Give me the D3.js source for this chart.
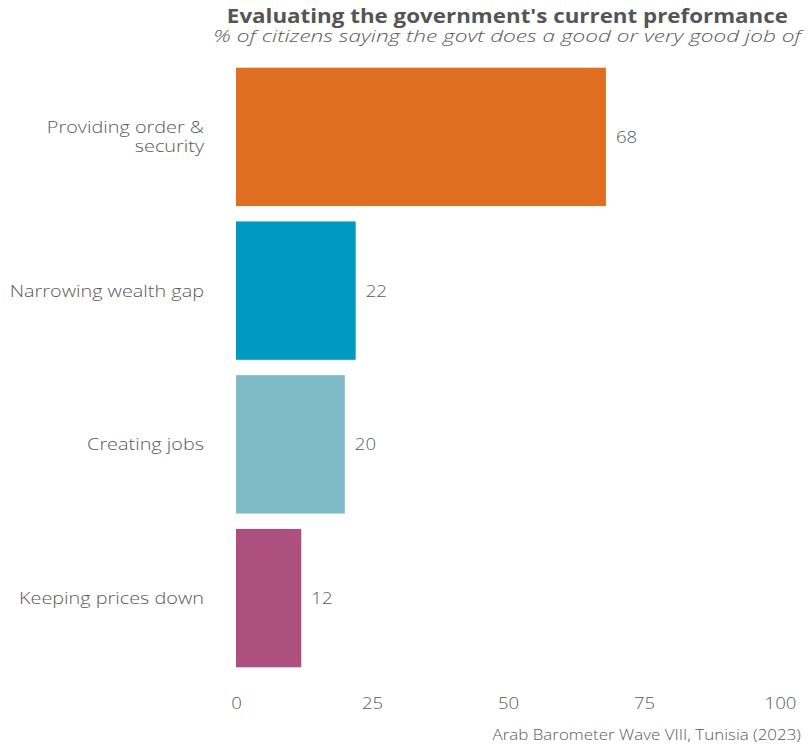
<!DOCTYPE html>
<html><head><meta charset="utf-8">
<script src="https://cdn.jsdelivr.net/npm/d3@7"></script>
<style>body{margin:0;background:#fff;} text{font-family:"Open Sans","Lato",sans-serif;}</style>
</head><body>
<svg id="c" width="809" height="746"></svg>
<script>
const categories = ["Providing order & security", "Narrowing wealth gap", "Creating jobs", "Keeping prices down"];
const labelLines = [["Providing order &", "security"], ["Narrowing wealth gap"], ["Creating jobs"], ["Keeping prices down"]];
const values = [68, 22, 20, 12];
const colors = ["#E06E20", "#0099C0", "#7FBAC8", "#AD507E"];
const ticks = [0, 25, 50, 75, 100];
const title = "Evaluating the government's current preformance";
const subtitle = "% of citizens saying the govt does a good or very good job of";
const caption = "Arab Barometer Wave VIII, Tunisia (2023)";

const svg = d3.select("#c");
const x = d3.scaleLinear().domain([0, 100]).range([236, 780]);
const y = d3.scaleBand().domain(categories).range([60, 675]).paddingInner(0.1).paddingOuter(0.05);
const txt = "#595959";

function stretch(sel, f) {
  sel.each(function () {
    const w = this.getComputedTextLength();
    d3.select(this).attr("textLength", w * f).attr("lengthAdjust", "spacingAndGlyphs");
  });
}

svg.selectAll("rect.bar").data(values).join("rect")
  .attr("x", x(0)).attr("y", (d, i) => y(categories[i]))
  .attr("width", d => x(d) - x(0)).attr("height", y.bandwidth())
  .attr("fill", (d, i) => colors[i]);

const vals = svg.selectAll("text.val").data(values).join("text")
  .attr("x", d => x(d) + 10).attr("y", (d, i) => y(categories[i]) + y.bandwidth() / 2 + 6)
  .attr("font-size", 15.5).attr("font-weight", 300).attr("fill", txt).text(d => d);
stretch(vals, 1.2);

categories.forEach((c, i) => {
  const lines = labelLines[i];
  const cy = y(c) + y.bandwidth() / 2;
  lines.forEach((l, j) => {
    const t = svg.append("text").attr("text-anchor", "end").attr("font-size", 16)
      .attr("font-weight", 300).attr("fill", txt)
      .attr("x", 204).attr("y", cy + 6 + (j - (lines.length - 1) / 2) * 19).text(l);
    stretch(t, 1.24);
  });
});

const ax = svg.append("g").attr("transform", "translate(0,690)")
  .call(d3.axisBottom(x).tickValues(ticks).tickSize(0).tickPadding(8));
ax.select(".domain").remove();
ax.selectAll("text").attr("font-size", 15.5).attr("font-weight", 300).attr("fill", txt)
  .style("font-family", '"Open Sans","Lato",sans-serif');
stretch(ax.selectAll("text"), 1.2);

const tt = svg.append("text").attr("x", 788).attr("y", 23).attr("text-anchor", "end")
  .attr("font-size", 19).attr("font-weight", 700).attr("fill", "#555").text(title);
stretch(tt, 1.176);
const st = svg.append("text").attr("x", 801).attr("y", 42).attr("text-anchor", "end")
  .attr("font-size", 17).attr("font-style", "italic").attr("font-weight", 300).attr("fill", txt).text(subtitle);
stretch(st, 1.33);
const cp = svg.append("text").attr("x", 801).attr("y", 740).attr("text-anchor", "end")
  .attr("font-size", 14).attr("font-weight", 300).attr("fill", txt).text(caption);
stretch(cp, 1.21);
</script>
</body></html>
